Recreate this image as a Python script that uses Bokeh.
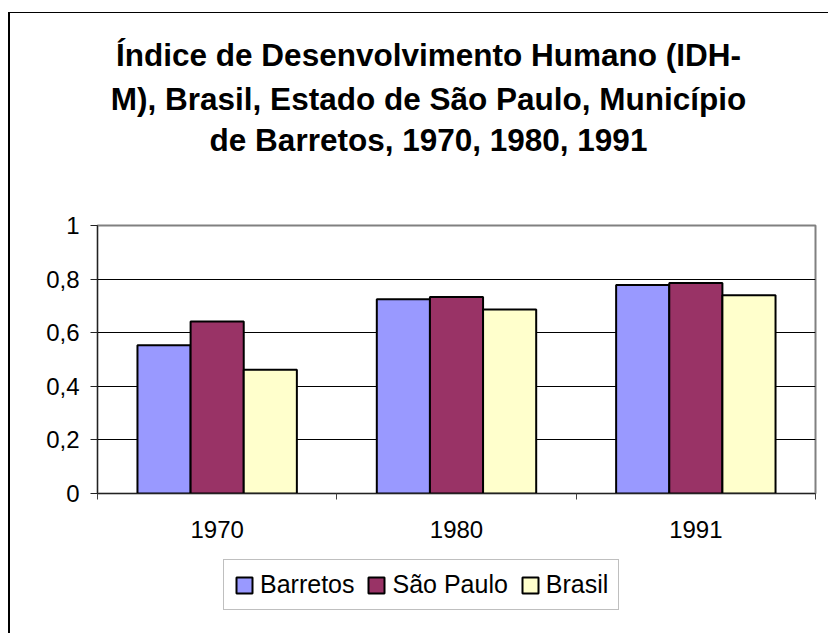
from bokeh.plotting import figure
from bokeh.models import FixedTicker, Legend, LegendItem, Label
from bokeh.layouts import column
from bokeh.embed import file_html
from bokeh.resources import INLINE

# ---- data ----
years = ["1970", "1980", "1991"]
series = ["Barretos", "São Paulo", "Brasil"]
barretos = [0.553, 0.725, 0.778]
sao_paulo = [0.642, 0.733, 0.785]
brasil = [0.462, 0.687, 0.740]
colors = ["#9999FF", "#993366", "#FFFFCC"]
y_ticks = [0, 0.2, 0.4, 0.6, 0.8, 1.0]
y_tick_labels = ["0", "0,2", "0,4", "0,6", "0,8", "1"]
title_lines = ["Índice de Desenvolvimento Humano (IDH-",
               "M), Brasil, Estado de São Paulo, Município",
               "de Barretos, 1970, 1980, 1991"]

FONT = "Liberation Sans"
W = 818           # figure width (inside the chart border)
BL, BR = 87, 13   # left / right borders -> plot frame 718 px wide
FRAME_W = W - BL - BR


def bare_strip(height, x_range, y_range):
    f = figure(width=W, height=height, x_range=x_range, y_range=y_range,
               output_backend="svg", toolbar_location=None,
               x_axis_type=None, y_axis_type=None,
               min_border_left=BL, min_border_right=BR,
               min_border_top=0, min_border_bottom=0)
    f.outline_line_color = None
    f.xgrid.visible = False
    f.ygrid.visible = False
    f.background_fill_color = "white"
    f.border_fill_color = "white"
    return f


# ---------------- title strip ----------------
TH = 160
pt = bare_strip(TH, (0, FRAME_W), (0, TH))
title_x = 331                 # horizontal centre of the title block (px from frame left)
title_baselines = [119, 75, 34]
for line, yb in zip(title_lines, title_baselines):
    pt.add_layout(Label(x=title_x, y=yb, text=line, text_font=FONT,
                        text_font_size="31.5px", text_font_style="bold",
                        text_color="black", text_align="center",
                        text_baseline="alphabetic"))

# ---------------- main chart ----------------
p = figure(width=W, height=385, x_range=(0, 3), y_range=(0, 1),
           output_backend="svg", toolbar_location=None,
           min_border_left=BL, min_border_right=BR,
           min_border_top=52, min_border_bottom=65)
p.title.text = ""
p.background_fill_color = "white"
p.border_fill_color = "white"
p.outline_line_color = "#808080"
p.outline_line_width = 2

# bars
w = 0.222
all_vals = [barretos, sao_paulo, brasil]
for j, vals in enumerate(all_vals):
    xs = [i + 0.5 + (j - 1) * w for i in range(len(years))]
    p.vbar(x=xs, top=vals, width=w, bottom=0,
           fill_color=colors[j], line_color="black", line_width=2)

# grid
p.xgrid.visible = False
p.ygrid.ticker = FixedTicker(ticks=y_ticks)
p.ygrid.grid_line_color = "black"
p.ygrid.grid_line_width = 1

# y axis
yax = p.yaxis[0]
yax.ticker = FixedTicker(ticks=y_ticks)
yax.major_label_overrides = dict(zip(y_ticks, y_tick_labels))
yax.major_tick_out = 7
yax.major_tick_in = 0
yax.minor_tick_line_color = None
yax.major_label_standoff = 11
yax.major_label_text_font = FONT
yax.major_label_text_font_size = "24px"
yax.major_label_text_color = "black"
yax.axis_line_color = "#222222"
yax.major_tick_line_color = "#222222"

# x axis
centers = [i + 0.5 for i in range(len(years))]
bounds = [i for i in range(len(years) + 1)]
xax = p.xaxis[0]
xax.ticker = FixedTicker(ticks=centers, minor_ticks=bounds)
xax.major_label_overrides = dict(zip(centers, years))
xax.major_tick_out = 0
xax.major_tick_in = 0
xax.minor_tick_out = 6
xax.minor_tick_in = 0
xax.minor_tick_line_color = "#404040"
xax.major_label_standoff = 21
xax.major_label_text_font = FONT
xax.major_label_text_font_size = "24px"
xax.major_label_text_color = "black"
xax.axis_line_color = "#222222"

# ---------------- legend strip ----------------
pl = bare_strip(75, (0, 3), (0, 1))
# same series again, hidden, only to provide the legend swatches
proxies = []
for j, vals in enumerate(all_vals):
    xs = [i + 0.5 + (j - 1) * w for i in range(len(years))]
    proxies.append(pl.vbar(x=xs, top=vals, width=w, bottom=0, fill_color=colors[j],
                           line_color="black", line_width=2, visible=False))
items = [LegendItem(label=series[j], renderers=[proxies[j]]) for j in range(len(series))]
legend = Legend(items=items, orientation="horizontal", location=(126, 23),
                glyph_width=20, glyph_height=20, label_standoff=6, spacing=12,
                padding=10, margin=0, border_line_color="#808080", border_line_width=1,
                label_text_font=FONT, label_text_font_size="25px",
                label_text_color="black", background_fill_color="white",
                background_fill_alpha=1, inactive_fill_alpha=0)
pl.add_layout(legend)

layout = column(pt, p, pl, spacing=0,
                styles={"border-left": "2px solid black", "border-top": "1px solid black",
                        "margin-left": "8px", "margin-top": "12px"})

open("out.html", "w").write(file_html(layout, INLINE))
